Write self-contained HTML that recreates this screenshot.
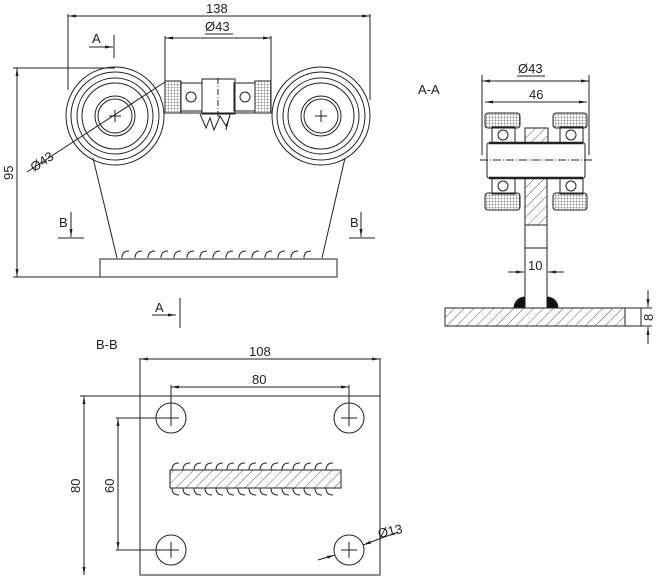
<!DOCTYPE html>
<html><head><meta charset="utf-8"><style>
html,body{margin:0;padding:0;background:#fff;}
svg{display:block;font-family:"Liberation Sans",sans-serif;}
text{font-size:13px;fill:#222;}
</style></head><body>
<svg width="656" height="578" viewBox="0 0 656 578" xmlns="http://www.w3.org/2000/svg">
<defs>
<pattern id="h" width="7" height="7" patternUnits="userSpaceOnUse" patternTransform="rotate(45)"><line x1="0" y1="0" x2="0" y2="7" stroke="#333" stroke-width="0.8"/></pattern>
<pattern id="g" width="3" height="3" patternUnits="userSpaceOnUse"><path d="M0 0H3M0 0V3" stroke="#333" stroke-width="0.6" fill="none"/></pattern>
<marker id="a" markerWidth="8" markerHeight="6" refX="8" refY="3" orient="auto" markerUnits="userSpaceOnUse"><path d="M0 1.5L8 3L0 4.5z" fill="#222"/></marker>
<marker id="b" markerWidth="8" markerHeight="6" refX="0" refY="3" orient="auto" markerUnits="userSpaceOnUse"><path d="M8 1.5L0 3L8 4.5z" fill="#222"/></marker>
</defs>
<g stroke="#222" stroke-width="1" fill="none">
<!-- TOP VIEW -->
<line x1="68" y1="14" x2="68" y2="90"/><line x1="370" y1="14" x2="370" y2="100"/>
<line x1="68" y1="16" x2="370" y2="16" marker-start="url(#b)" marker-end="url(#a)"/>
<line x1="165" y1="36" x2="165" y2="82"/><line x1="271" y1="36" x2="271" y2="82"/>
<line x1="165" y1="38" x2="271" y2="38" marker-start="url(#b)" marker-end="url(#a)"/>
<line x1="205" y1="34" x2="233" y2="34"/>
<line x1="89" y1="47" x2="113" y2="47" marker-end="url(#a)"/><line x1="114" y1="35" x2="114" y2="58"/>
<line x1="13" y1="68" x2="115" y2="68"/><line x1="13" y1="277" x2="100" y2="277"/>
<line x1="17" y1="68" x2="17" y2="277" marker-start="url(#b)" marker-end="url(#a)"/>
<g>
<circle cx="115" cy="116" r="49"/><circle cx="115" cy="116" r="44"/><circle cx="115" cy="116" r="38"/><circle cx="115" cy="116" r="33"/><circle cx="115" cy="116" r="20"/><circle cx="115" cy="116" r="17"/>
<circle cx="321" cy="116" r="49"/><circle cx="321" cy="116" r="44"/><circle cx="321" cy="116" r="38"/><circle cx="321" cy="116" r="33"/><circle cx="321" cy="116" r="20"/><circle cx="321" cy="116" r="17"/>
<path d="M109 116h12M115 110v12M315 116h12M321 110v12"/>
</g>
<line x1="27" y1="172" x2="165" y2="82"/>
<rect x="165" y="81" width="16" height="32" fill="url(#g)"/><rect x="255" y="81" width="16" height="32" fill="url(#g)"/>
<rect x="181" y="83" width="21" height="28"/><rect x="234" y="83" width="21" height="28"/>
<circle cx="191" cy="97" r="5"/><circle cx="245" cy="97" r="5"/>
<rect x="202" y="79" width="33" height="35"/>
<line x1="218" y1="78" x2="218" y2="118" stroke-dasharray="6,2,1,2"/>
<path d="M200 114l6 14l4-10l4 12l6-14l6 10l4-10M230 114l-4 16"/>
<path d="M165 113h106"/>
<line x1="93" y1="158" x2="117" y2="258"/><line x1="345" y1="158" x2="322" y2="258"/>
<path d="M122 258q0-7 7-7M135 258q0-7 7-7M148 258q0-7 7-7M161 258q0-7 7-7M174 258q0-7 7-7M187 258q0-7 7-7M200 258q0-7 7-7M213 258q0-7 7-7M226 258q0-7 7-7M239 258q0-7 7-7M252 258q0-7 7-7M265 258q0-7 7-7M278 258q0-7 7-7M291 258q0-7 7-7M304 258q0-7 7-7"/>
<rect x="100" y="259" width="237" height="18"/>
<line x1="71" y1="212" x2="71" y2="237" marker-end="url(#a)"/><line x1="58" y1="238" x2="84" y2="238"/>
<line x1="361" y1="212" x2="361" y2="237" marker-end="url(#a)"/><line x1="349" y1="238" x2="375" y2="238"/>
<line x1="152" y1="315" x2="176" y2="315" marker-end="url(#a)"/><line x1="180" y1="298" x2="180" y2="328"/>

<!-- A-A VIEW -->
<line x1="482" y1="75" x2="482" y2="155"/><line x1="589" y1="75" x2="589" y2="155"/>
<line x1="482" y1="81" x2="589" y2="81" marker-start="url(#b)" marker-end="url(#a)"/>
<line x1="517" y1="76" x2="545" y2="76"/>
<line x1="485" y1="102" x2="587" y2="102" marker-start="url(#b)" marker-end="url(#a)"/>
<rect x="485" y="113" width="35" height="15" rx="3" fill="url(#g)"/><rect x="553" y="113" width="34" height="15" rx="3" fill="url(#g)"/>
<rect x="485" y="193" width="35" height="17" rx="3" fill="url(#g)"/><rect x="553" y="193" width="34" height="17" rx="3" fill="url(#g)"/>
<rect x="492" y="127" width="23" height="17"/><rect x="560" y="127" width="23" height="17"/>
<rect x="492" y="177" width="23" height="17"/><rect x="560" y="177" width="23" height="17"/>
<circle cx="503" cy="135" r="5"/><circle cx="571" cy="135" r="5"/><circle cx="503" cy="186" r="5"/><circle cx="571" cy="186" r="5"/>
<rect x="525" y="128" width="23" height="15" fill="url(#h)"/>
<rect x="487" y="143" width="98" height="35" rx="2" fill="#fff"/>
<line x1="489" y1="143" x2="583" y2="143" stroke-width="2.5"/><line x1="489" y1="178" x2="583" y2="178" stroke-width="2.5"/>
<line x1="480" y1="160" x2="592" y2="160" stroke-dasharray="8,2,1,2"/>
<rect x="525" y="178" width="22" height="47" fill="url(#h)"/>
<path d="M525 225V308M547 225V308M525 248h22"/>
<line x1="508" y1="272" x2="524" y2="272" marker-end="url(#a)"/><line x1="564" y1="272" x2="548" y2="272" marker-end="url(#a)"/>
<path d="M514 308a11 11 0 0 1 11-11v11zM558 308a11 11 0 0 0-11-11v11z" fill="#111"/>
<rect x="445" y="308" width="180" height="18" fill="url(#h)"/><rect x="625" y="308" width="16" height="18"/>
<line x1="648" y1="290" x2="648" y2="307" marker-end="url(#a)"/><line x1="648" y1="344" x2="648" y2="327" marker-end="url(#a)"/>
<line x1="641" y1="308" x2="652" y2="308"/><line x1="641" y1="326" x2="652" y2="326"/>

<!-- B-B VIEW -->
<rect x="140" y="396" width="240" height="179"/>
<line x1="80" y1="396" x2="140" y2="396"/>
<line x1="84" y1="396" x2="84" y2="575" marker-start="url(#b)" marker-end="url(#a)"/>
<line x1="140" y1="358" x2="140" y2="396"/><line x1="380" y1="358" x2="380" y2="396"/>
<line x1="140" y1="359" x2="380" y2="359" marker-start="url(#b)" marker-end="url(#a)"/>
<line x1="171" y1="385" x2="171" y2="418"/><line x1="349" y1="385" x2="349" y2="418"/>
<line x1="171" y1="387" x2="349" y2="387" marker-start="url(#b)" marker-end="url(#a)"/>
<circle cx="171" cy="418" r="15"/><circle cx="349" cy="418" r="15"/><circle cx="171" cy="550" r="15"/><circle cx="349" cy="550" r="15"/>
<path d="M163 418h16M171 410v16M341 418h16M349 410v16M163 550h16M171 542v16M341 550h16M349 542v16"/>
<line x1="116" y1="418" x2="171" y2="418"/><line x1="116" y1="550" x2="171" y2="550"/>
<line x1="118" y1="418" x2="118" y2="550" marker-start="url(#b)" marker-end="url(#a)"/>
<rect x="170" y="470" width="171" height="18" fill="url(#h)"/>
<path d="M172 470q0-7 7-7M183 470q0-7 7-7M194 470q0-7 7-7M205 470q0-7 7-7M216 470q0-7 7-7M227 470q0-7 7-7M238 470q0-7 7-7M249 470q0-7 7-7M260 470q0-7 7-7M271 470q0-7 7-7M282 470q0-7 7-7M293 470q0-7 7-7M304 470q0-7 7-7M315 470q0-7 7-7M326 470q0-7 7-7"/>
<path d="M172 488q0 7 7 7M183 488q0 7 7 7M194 488q0 7 7 7M205 488q0 7 7 7M216 488q0 7 7 7M227 488q0 7 7 7M238 488q0 7 7 7M249 488q0 7 7 7M260 488q0 7 7 7M271 488q0 7 7 7M282 488q0 7 7 7M293 488q0 7 7 7M304 488q0 7 7 7M315 488q0 7 7 7M326 488q0 7 7 7"/>
<line x1="318" y1="560" x2="335" y2="555" marker-end="url(#a)"/><line x1="398" y1="532" x2="363" y2="545" marker-end="url(#a)"/>
</g>
<g stroke="none">
<text x="206" y="13">138</text>
<text x="205" y="31">Ø43</text>
<text x="92" y="43">A</text>
<text x="0" y="0" transform="translate(13,180) rotate(-90)">95</text>
<text x="0" y="0" transform="translate(34,172) rotate(-33)">Ø43</text>
<text x="59" y="227">B</text>
<text x="350" y="227">B</text>
<text x="155" y="312">A</text>
<text x="418" y="94">A-A</text>
<text x="518" y="73">Ø43</text>
<text x="529" y="99">46</text>
<text x="528" y="270">10</text>
<text x="0" y="0" transform="translate(653,321) rotate(-90)">8</text>
<text x="96" y="349">B-B</text>
<text x="249" y="356">108</text>
<text x="252" y="384">80</text>
<text x="0" y="0" transform="translate(80,493) rotate(-90)">80</text>
<text x="0" y="0" transform="translate(114,493) rotate(-90)">60</text>
<text x="0" y="0" transform="translate(379,538) rotate(-12)">Ø13</text>
</g>
</svg>
</body></html>
